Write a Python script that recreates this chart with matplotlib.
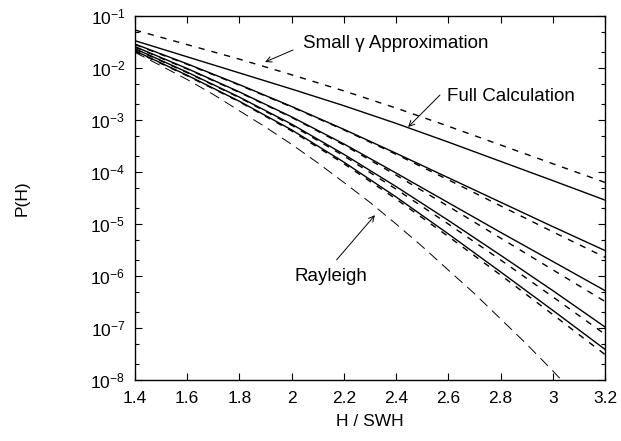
import numpy as np
import matplotlib
matplotlib.use('Agg')
import matplotlib.pyplot as plt
from matplotlib.patches import FancyArrowPatch
from matplotlib.ticker import LogLocator, FixedLocator, NullFormatter

plt.rcParams['font.family'] = ['Liberation Sans', 'DejaVu Sans']

h = [1.4, 1.6, 1.8, 2.0, 2.2, 2.4, 2.6, 2.8, 3.0, 3.2]

# log10 P(H), full calculation (solid), one curve per parameter value
full_1 = [-1.475, -1.785, -2.095, -2.405, -2.725, -3.065, -3.425, -3.795, -4.165, -4.54]
full_2 = [-1.54, -1.92, -2.32, -2.74, -3.18, -3.64, -4.11, -4.58, -5.05, -5.51]
full_3 = [-1.59, -2.01, -2.46, -2.94, -3.46, -4.02, -4.59, -5.16, -5.72, -6.28]
full_4 = [-1.63, -2.08, -2.56, -3.08, -3.66, -4.28, -4.93, -5.60, -6.28, -6.98]
full_5 = [-1.67, -2.14, -2.64, -3.19, -3.81, -4.48, -5.19, -5.92, -6.66, -7.41]

# log10 P(H), small gamma approximation (short dashes)
small_1 = [-1.27, -1.55, -1.83, -2.13, -2.44, -2.77, -3.12, -3.48, -3.84, -4.20]
small_2 = [-1.55, -1.93, -2.33, -2.75, -3.19, -3.66, -4.15, -4.65, -5.15, -5.64]
small_3 = [-1.60, -2.02, -2.47, -2.95, -3.48, -4.06, -4.66, -5.27, -5.88, -6.49]
small_4 = [-1.64, -2.09, -2.57, -3.10, -3.69, -4.33, -5.00, -5.69, -6.40, -7.12]
small_5 = [-1.68, -2.15, -2.65, -3.21, -3.84, -4.52, -5.24, -5.98, -6.74, -7.51]

# Rayleigh (long dashes)
rayleigh_h = [1.4, 1.5, 1.6, 1.7, 1.8, 1.9, 2.0, 2.1, 2.2, 2.3, 2.4, 2.5,
              2.6, 2.7, 2.8, 2.9, 3.0, 3.1]
rayleigh_p = [2.0e-2, 1.1e-2, 6.0e-3, 3.1e-3, 1.5e-3, 7.3e-4, 3.4e-4, 1.5e-4,
              6.3e-5, 2.6e-5, 1.0e-5, 3.7e-6, 1.3e-6, 4.6e-7, 1.5e-7, 4.9e-8,
              1.5e-8, 4.4e-9]

x_ticks = [1.4, 1.6, 1.8, 2.0, 2.2, 2.4, 2.6, 2.8, 3.0, 3.2]
x_tick_labels = ['1.4', '1.6', '1.8', '2', '2.2', '2.4', '2.6', '2.8', '3', '3.2']
y_ticks = [1e-8, 1e-7, 1e-6, 1e-5, 1e-4, 1e-3, 1e-2, 1e-1]

fig = plt.figure(figsize=(6.21, 4.41), dpi=100)
ax = fig.add_axes([0.2174, 0.1383, 0.7568, 0.8254])

for curve in [full_1, full_2, full_3, full_4, full_5]:
    ax.plot(h, 10 ** np.array(curve), color='black', lw=1.0, linestyle='-')
for curve in [small_1, small_2, small_3, small_4, small_5]:
    ax.plot(h, 10 ** np.array(curve), color='black', lw=1.0, linestyle=(0, (4.5, 5)))
ax.plot(rayleigh_h, rayleigh_p, color='black', lw=0.7, linestyle=(0, (11, 6.5)))

ax.set_yscale('log')
ax.set_xlim(1.4, 3.2)
ax.set_ylim(1e-8, 1e-1)
ax.xaxis.set_major_locator(FixedLocator(x_ticks))
ax.set_xticklabels(x_tick_labels)
ax.yaxis.set_major_locator(FixedLocator(y_ticks))
ax.yaxis.set_minor_locator(LogLocator(base=10, subs=(2.0, 5.0), numticks=12))
ax.yaxis.set_minor_formatter(NullFormatter())

ax.tick_params(which='both', direction='in', top=True, right=True, labelsize=12.5, width=0.8)
ax.tick_params(which='major', length=5)
ax.tick_params(which='minor', length=3)
ax.tick_params(axis='x', pad=8)
ax.tick_params(axis='y', pad=7)
for sp in ax.spines.values():
    sp.set_linewidth(1.0)

ax.set_xlabel('H / SWH', fontsize=12.5, labelpad=6)
ax.set_ylabel('P(H)', fontsize=12.5, labelpad=44)

# Annotations: thin arrows with open heads
def arrow(tail, tip):
    ax.add_patch(FancyArrowPatch(tail, tip, arrowstyle='->', mutation_scale=10,
                                 lw=0.7, color='black', shrinkA=0, shrinkB=0))

arrow((2.005, 10 ** -1.654), (1.898, 10 ** -1.885))
ax.text(2.045, 10 ** -1.52, 'Small γ Approximation', fontsize=13.5, ha='left', va='center')
arrow((2.568, 10 ** -2.52), (2.446, 10 ** -3.135))
ax.text(2.595, 10 ** -2.54, 'Full Calculation', fontsize=13.5, ha='left', va='center')
arrow((2.172, 10 ** -5.69), (2.319, 10 ** -4.83))
ax.text(2.15, 10 ** -6.0, 'Rayleigh', fontsize=13.5, ha='center', va='center')

fig.savefig('out.png', dpi=100)
